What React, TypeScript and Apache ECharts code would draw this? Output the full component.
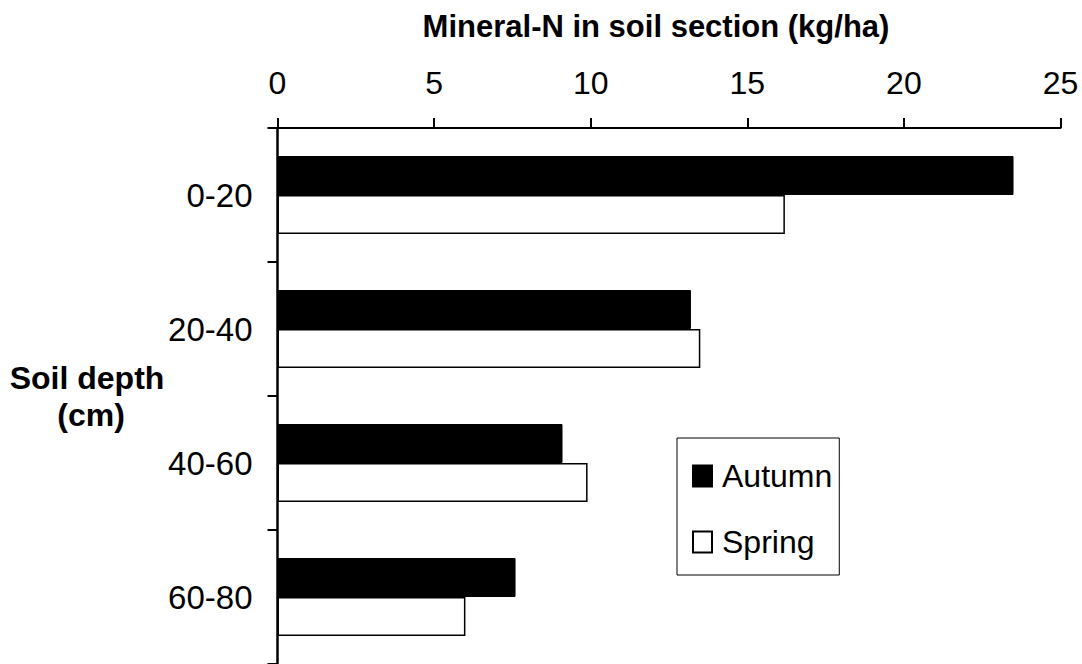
import React, { useEffect, useRef } from "react";
import * as echarts from "echarts";

const depths = ["0-20", "20-40", "40-60", "60-80"];
const autumn = [23.5, 13.2, 9.1, 7.6];
const spring = [16.2, 13.5, 9.9, 6.0];
const xTicks = { min: 0, max: 25, interval: 5 };
const titleText = "Mineral-N in soil section (kg/ha)";
const yName1 = "Soil depth";
const yName2 = "(cm)";

const FONT = "'Liberation Sans', Arial, sans-serif";

export default function App() {
  const ref = useRef<HTMLDivElement>(null);
  useEffect(() => {
    if (!ref.current) return;
    const chart = echarts.init(ref.current, undefined, { renderer: "svg" });
    chart.setOption({
      animation: false,
      backgroundColor: "#ffffff",
      textStyle: { fontFamily: FONT },
      grid: { left: 277.5, top: 128, width: 783, height: 537, containLabel: false },
      xAxis: {
        type: "value",
        position: "top",
        min: xTicks.min,
        max: xTicks.max,
        interval: xTicks.interval,
        splitLine: { show: false },
        axisLine: { show: true, lineStyle: { color: "#000", width: 2 } },
        axisTick: { show: true, length: 10, lineStyle: { color: "#000", width: 2 } },
        axisLabel: { color: "#000", fontSize: 32, margin: 29, fontFamily: FONT },
      },
      yAxis: {
        type: "category",
        data: depths,
        inverse: true,
        axisLine: { show: true, lineStyle: { color: "#000", width: 2.5 } },
        axisTick: { show: true, length: 10, alignWithLabel: false, lineStyle: { color: "#000", width: 2 } },
        axisLabel: { color: "#000", fontSize: 33, margin: 25, fontFamily: FONT },
      },
      legend: {
        orient: "vertical",
        left: 677,
        top: 438,
        padding: [22, 7, 17, 15],
        itemGap: 34,
        itemWidth: 19,
        itemHeight: 21,
        borderColor: "#000",
        borderWidth: 1,
        backgroundColor: "#fff",
        icon: "rect",
        textStyle: { color: "#000", fontSize: 32, fontFamily: FONT, padding: [0, 0, 0, 5] },
        data: ["Autumn", "Spring"],
      },
      series: [
        {
          name: "Autumn",
          type: "bar",
          data: autumn,
          barWidth: 39,
          barGap: "0%",
          itemStyle: { color: "#000", borderColor: "#000", borderWidth: 1 },
        },
        {
          name: "Spring",
          type: "bar",
          data: spring,
          barWidth: 39,
          barGap: "0%",
          itemStyle: { color: "#fff", borderColor: "#000", borderWidth: 1.5 },
        },
      ],
      graphic: [
        {
          type: "text",
          x: 656,
          y: 26,
          style: {
            text: titleText,
            fontSize: 31,
            fontWeight: "bold",
            fontFamily: FONT,
            fill: "#000",
            align: "center",
            verticalAlign: "middle",
          },
        },
        {
          type: "text",
          x: 87,
          y: 378,
          style: {
            text: yName1,
            fontSize: 32,
            fontWeight: "bold",
            fontFamily: FONT,
            fill: "#000",
            align: "center",
            verticalAlign: "middle",
          },
        },
        {
          type: "text",
          x: 91,
          y: 415,
          style: {
            text: yName2,
            fontSize: 32,
            fontWeight: "bold",
            fontFamily: FONT,
            fill: "#000",
            align: "center",
            verticalAlign: "middle",
          },
        },
      ],
    });
    return () => chart.dispose();
  }, []);
  return (
    <div
      ref={ref}
      style={{ position: "fixed", left: 0, top: 0, width: 1082, height: 664, background: "#fff" }}
    />
  );
}
